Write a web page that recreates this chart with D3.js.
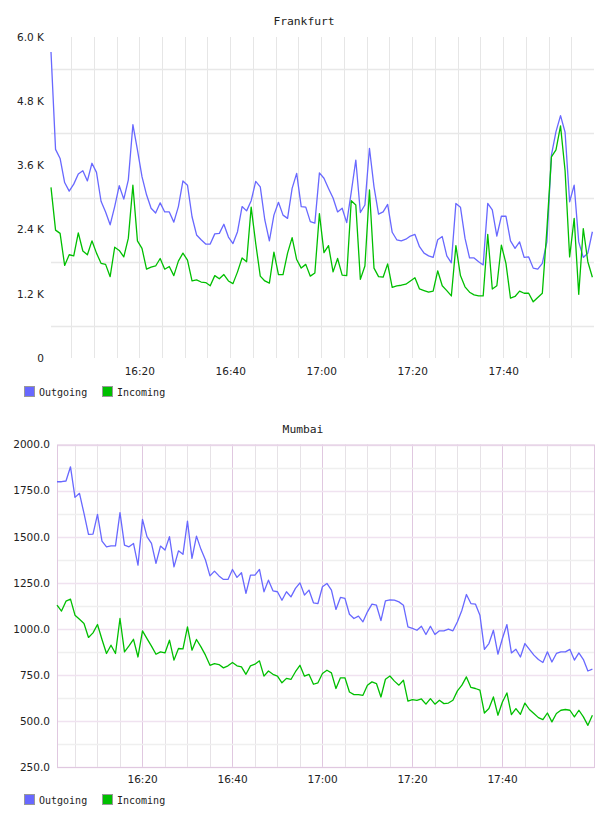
<!DOCTYPE html>
<html lang="en">
<head>
<meta charset="UTF-8">
<title>Frankfurt / Mumbai traffic</title>
<script src="https://d3js.org/d3.v7.min.js"></script>
<style>
  body { margin: 0; background: #fff; }
  .title { font: 11.3px "DejaVu Sans Mono", monospace; fill: #222; text-anchor: middle; }
  .tick text { font: 10.5px "DejaVu Sans", sans-serif; fill: #222; }
  .legend text { font: 10px "DejaVu Sans Mono", monospace; fill: #222; }
  .line { fill: none; stroke-width: 1.3px; stroke-linejoin: round; }
</style>
</head>
<body>
<div id="chart"></div>
<script>
// ---- data (one point per minute) ----
const seriesNames = ["Outgoing", "Incoming"];
const seriesColors = ["#6868ff", "#00bf00"];
const timeTickLabels = ["16:20", "16:40", "17:00", "17:20", "17:40"];

const frankfurtStart = "16:00:36";
const frankfurtOutgoing = [
  5720, 3900, 3730, 3280, 3120, 3250, 3440, 3500, 3310, 3640,
  3470, 2930, 2730, 2490, 2830, 3220, 2970, 3330, 4360, 3890,
  3390, 3050, 2800, 2710, 2900, 2730, 2730, 2540, 2830, 3310,
  3230, 2640, 2300, 2210, 2130, 2130, 2320, 2330, 2500, 2260,
  2140, 2360, 2830, 2750, 2940, 3300, 3200, 2580, 2190, 2670,
  2910, 2670, 2610, 3170, 3450, 2830, 2820, 2550, 2520, 3460,
  3360, 3170, 2990, 2730, 2800, 2530, 3100, 3700, 2720, 2860,
  3920, 3200, 2690, 2730, 2870, 2350, 2210, 2190, 2220, 2280,
  2310, 2080, 1960, 1910, 1880, 2210, 2270, 1910, 1780, 2890,
  2820, 2240, 1870, 1870, 1800, 1740, 2890, 2770, 2280, 2650,
  2650, 2190, 2050, 2170, 1880, 1890, 1680, 1660, 1770, 2170,
  3790, 4230, 4530, 4220, 2920, 3230, 2170, 1880, 1960, 2360
];
const frankfurtIncoming = [
  3190, 2390, 2330, 1730, 1930, 1910, 2340, 2000, 1930, 2190,
  1960, 1770, 1750, 1520, 2070, 2010, 1890, 2240, 3230, 2190,
  2050, 1660, 1700, 1720, 1860, 1660, 1710, 1540, 1810, 1960,
  1830, 1440, 1460, 1420, 1410, 1350, 1540, 1480, 1560, 1440,
  1390, 1610, 1870, 1800, 2820, 2140, 1530, 1440, 1400, 1980,
  1560, 1560, 1960, 2250, 1840, 1680, 1750, 1530, 1590, 2700,
  1970, 2100, 1610, 1860, 1550, 1540, 2940, 2860, 1470, 1720,
  3140, 1680, 1520, 1510, 1760, 1320, 1350, 1360, 1380, 1440,
  1500, 1290, 1260, 1230, 1250, 1630, 1350, 1260, 1160, 2100,
  1540, 1330, 1230, 1180, 1160, 1160, 2310, 1290, 1350, 2110,
  1770, 1120, 1150, 1250, 1210, 1210, 1050, 1130, 1210, 2400,
  3760, 3890, 4340, 3500, 1890, 2610, 1190, 2420, 1800, 1510
];
const frankfurtYTicks = [0, 1200, 2400, 3600, 4800, 6000];
const frankfurtGridValues = [600, 1800, 3000, 4200, 5400];

const mumbaiStart = "16:01:05";
const mumbaiOutgoing = [
  1798, 1798, 1802, 1879, 1713, 1735, 1626, 1512, 1514, 1621,
  1476, 1445, 1450, 1450, 1630, 1454, 1445, 1463, 1345, 1594,
  1500, 1463, 1355, 1449, 1427, 1500, 1336, 1423, 1404, 1584,
  1382, 1503, 1431, 1373, 1287, 1313, 1287, 1268, 1268, 1322,
  1279, 1304, 1192, 1291, 1291, 1322, 1201, 1264, 1206, 1201,
  1155, 1201, 1173, 1219, 1249, 1183, 1210, 1141, 1137, 1228,
  1246, 1210, 1105, 1170, 1165, 1079, 1056, 1069, 1038, 1092,
  1134, 1128, 1044, 1152, 1157, 1155, 1146, 1128, 1010, 1002,
  992, 1014, 969, 1014, 969, 989, 989, 998, 989, 1038,
  1101, 1186, 1137, 1134, 1074, 888, 920, 992, 862, 947,
  1023, 869, 889, 847, 920, 888, 857, 833, 817, 875,
  820, 866, 875, 875, 888, 830, 869, 833, 771, 781
];
const mumbaiIncoming = [
  1128, 1096, 1150, 1161, 1074, 1052, 1029, 953, 978, 1023,
  942, 866, 911, 866, 1056, 875, 907, 943, 847, 989,
  947, 906, 862, 875, 869, 938, 830, 893, 891, 1010,
  884, 942, 902, 857, 802, 811, 806, 788, 799, 817,
  799, 793, 753, 799, 808, 826, 743, 771, 753, 743,
  707, 731, 725, 767, 802, 743, 753, 699, 707, 757,
  775, 761, 676, 734, 734, 657, 643, 643, 639, 694,
  712, 703, 630, 726, 744, 716, 694, 721, 608, 616,
  612, 619, 591, 621, 591, 612, 594, 597, 612, 663,
  694, 739, 682, 676, 667, 543, 567, 630, 531, 603,
  652, 534, 567, 536, 597, 562, 540, 518, 507, 543,
  495, 540, 558, 562, 558, 522, 558, 522, 476, 531
];
const mumbaiYTicks = [250, 500, 750, 1000, 1250, 1500, 1750, 2000];
const mumbaiMinorValues = [375, 625, 875, 1125, 1375, 1625, 1875];

// ---- drawing ----
const svg = d3.select("#chart").append("svg")
  .attr("width", 608).attr("height", 816);

const parseTime = d3.timeParse("%Y-%m-%d %H:%M:%S");
const fmtTime = d3.timeFormat("%H:%M");

function drawChart(opt) {
  const t0 = parseTime("2020-01-01 " + opt.start);
  const series = opt.values.map(vals => vals.map((v, i) => ({ t: d3.timeMinute.offset(t0, i), v })));
  const n = opt.values[0].length;
  const tEnd = new Date(t0.getTime() + (n - 1) * 60000 * opt.spanFactor);

  const x = d3.scaleTime().domain([t0, tEnd]).range([opt.left, opt.right]);
  const y = d3.scaleLinear().domain(opt.yDomain).range([opt.bottom, opt.top]);
  const g = svg.append("g");

  // grid (skip a tick sitting on the right edge)
  const minorTicks = x.ticks(d3.timeMinute.every(5)).filter(d => x(d) < opt.right - 6);
  g.selectAll(".vgrid").data(minorTicks).join("line")
    .attr("x1", d => Math.round(x(d)) + 0.5).attr("x2", d => Math.round(x(d)) + 0.5)
    .attr("y1", opt.top).attr("y2", opt.bottom)
    .attr("stroke", d => (opt.majorColor && timeTickLabels.includes(fmtTime(d))) ? opt.majorColor : opt.gridColor);

  g.selectAll(".hminor").data(opt.minorY).join("line")
    .attr("x1", opt.left).attr("x2", opt.right)
    .attr("y1", d => Math.round(y(d)) + 0.5).attr("y2", d => Math.round(y(d)) + 0.5)
    .attr("stroke", opt.hGridColor).attr("stroke-width", 1.5);

  if (opt.majorColor) {
    g.selectAll(".hmajor").data(opt.yTicks).join("line")
      .attr("x1", opt.left).attr("x2", opt.right)
      .attr("y1", d => Math.round(y(d)) + 0.5).attr("y2", d => Math.round(y(d)) + 0.5)
      .attr("stroke", opt.hMajorColor).attr("stroke-width", 1.5);
    g.append("rect")
      .attr("x", opt.left + 0.5).attr("y", opt.top + 0.5)
      .attr("width", opt.right - opt.left).attr("height", opt.bottom - opt.top)
      .attr("fill", "none").attr("stroke", opt.majorColor);
  }

  // y axis labels
  const yAxis = g.append("g")
    .attr("transform", `translate(${opt.yLabelX},0)`)
    .call(d3.axisLeft(y).tickValues(opt.yTicks).tickSize(0).tickPadding(0).tickFormat(opt.yFormat));
  yAxis.select(".domain").remove();

  // x axis labels
  const xAxis = g.append("g")
    .attr("transform", `translate(0,${opt.xLabelY})`)
    .call(d3.axisBottom(x).ticks(d3.timeMinute.every(20)).tickSize(0).tickPadding(0)
      .tickFormat(d => timeTickLabels.includes(fmtTime(d)) ? fmtTime(d) : ""));
  xAxis.select(".domain").remove();

  // lines
  const line = d3.line().x(d => x(d.t)).y(d => y(d.v));
  series.forEach((s, k) => {
    g.append("path").datum(s).attr("class", "line")
      .attr("stroke", seriesColors[k]).attr("d", line);
  });

  // title
  g.append("text").attr("class", "title")
    .attr("x", opt.titleX).attr("y", opt.titleY).text(opt.title);

  // legend
  const leg = g.append("g").attr("class", "legend")
    .attr("transform", `translate(0,${opt.legendY})`);
  const legX = [24, 102];
  seriesNames.forEach((name, k) => {
    leg.append("rect").attr("x", legX[k] + 0.5).attr("y", -5.5)
      .attr("width", 10).attr("height", 10)
      .attr("fill", seriesColors[k]).attr("stroke", "#999");
    leg.append("text").attr("x", legX[k] + 15).attr("y", 3.5).text(name);
  });
}

drawChart({
  title: "Frankfurt", titleX: 304, titleY: 24.5,
  start: frankfurtStart, values: [frankfurtOutgoing, frankfurtIncoming], spanFactor: 1.003,
  left: 51, right: 594, top: 37, bottom: 358,
  yDomain: [0, 6000], yTicks: frankfurtYTicks, minorY: frankfurtGridValues,
  yFormat: d => d === 0 ? "0" : (d / 1000).toFixed(1) + " K",
  yLabelX: 44, xLabelY: 368,
  gridColor: "#e6e6e6", hGridColor: "#e8e8e8",
  legendY: 392
});

drawChart({
  title: "Mumbai", titleX: 303, titleY: 432.5,
  start: mumbaiStart, values: [mumbaiOutgoing, mumbaiIncoming], spanFactor: 1.003,
  left: 57, right: 594, top: 444.5, bottom: 767,
  yDomain: [250, 2000], yTicks: mumbaiYTicks, minorY: mumbaiMinorValues,
  yFormat: d3.format(".1f"),
  yLabelX: 50, xLabelY: 776,
  gridColor: "#e6e2e6", hGridColor: "#efefef",
  majorColor: "#e0c8e0", hMajorColor: "#f0e2f0",
  legendY: 800
});
</script>
</body>
</html>
